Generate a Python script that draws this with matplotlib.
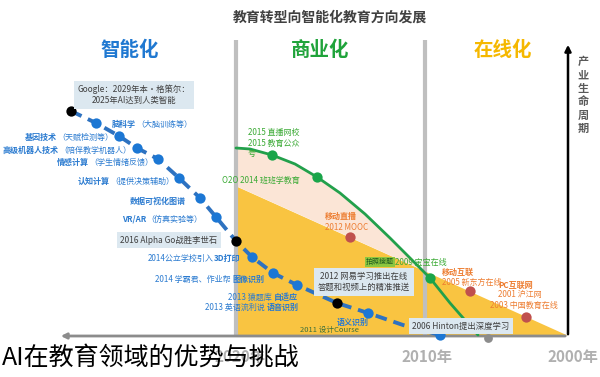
import matplotlib
matplotlib.use("Agg")
import matplotlib.pyplot as plt
import numpy as np

plt.rcParams['font.family'] = ['Noto Sans CJK SC', 'DejaVu Sans']

# timeline positions (x) and life-cycle level (y, drawn top-down)
ai_x = [71, 96, 119, 137, 158, 179, 200, 216, 236, 252, 273, 297, 337, 368, 403, 440]
ai_y = [111, 123, 136, 148, 159, 178, 198, 217, 241, 257, 273, 285, 303, 313, 325, 335]
ai_kind = ['k', 'b', 'b', 'b', 'b', 'b', 'b', 'b', 'k', 'b', 'b', 'b', 'k', 'b', None, 'b']

biz_x = [236, 250, 272, 295, 317, 340, 365, 390, 410, 430, 450, 478]
biz_y = [148, 149, 155, 164, 177, 193, 214, 238, 258, 278, 303, 335]
biz_dots = [2, 4, 9]

online_x = [236, 567]
online_y = [186, 335]
online_dot_x = [350, 470, 526]

base_y = 335
years = ['2020年', '2010年', '2000年']
year_x = [240, 427, 573]
sections = ['智能化', '商业化', '在线化']
section_x = [130, 320, 503]
section_col = ['#1F78D1', '#1FA33A', '#F5B800']
divider_x = [236, 425]

# blue labels: (left x, y, [(text, bold), ...])
ai_labels = [
    (112, 124, [('脑科学', True), ('（大脑训练等）', False)]),
    (25, 137, [('基因技术', True), ('（天赋检测等）', False)]),
    (3, 150, [('高级机器人技术', True), ('（陪伴教学机器人）', False)]),
    (57, 162, [('情感计算', True), ('（学生情绪反馈）', False)]),
    (78, 181, [('认知计算', True), ('（提供决策辅助）', False)]),
    (130, 201, [('数据可视化图谱', True)]),
    (122, 219, [('VR/AR', True), ('（仿真实验等）', False)]),
    (148, 258, [('2014公立学校引入', False), ('3D打印', True)]),
    (155, 279, [('2014 学霸君、作业帮 ', False), ('图像识别', True)]),
    (228, 297, [('2013 猿题库 ', False), ('自适应', True)]),
    (205, 307, [('2013 英语流利说 ', False), ('语音识别', True)]),
    (337, 322, [('语义识别', True)]),
]

fig = plt.figure(figsize=(6, 3.77), dpi=100)
ax = fig.add_axes([0, 0, 1, 1])
ax.set_xlim(0, 600)
ax.set_ylim(377, 0)
ax.axis('off')

# areas
xx = np.linspace(online_x[0], online_x[1], 300)
yellow = np.interp(xx, online_x, online_y)
green = np.interp(xx, biz_x, biz_y)
ax.fill_between(xx, yellow, base_y, color='#F9C441', lw=0, zorder=1)
ax.fill_between(xx, green, yellow, where=green <= yellow, interpolate=True,
                color='#FBE5D6', lw=0, zorder=1)

# dividers and axes
ax.vlines(divider_x, 40, base_y, color='#BFBFBF', lw=3, zorder=2)
ax.annotate('', xy=(58, base_y + 1), xytext=(568, base_y + 1),
            arrowprops=dict(arrowstyle='-|>', color='#8C8C8C', lw=2, mutation_scale=8), zorder=3)
ax.annotate('', xy=(568, 42), xytext=(568, base_y + 2),
            arrowprops=dict(arrowstyle='-|>', color='black', lw=1.8, mutation_scale=9), zorder=3)
ax.text(583, 95, '\n'.join('产业生命周期'), ha='center', va='center', fontsize=8,
        color='#595959', fontweight='bold', linespacing=1.05)

for lbl, x in zip(years, year_x):
    ax.text(x, 357, lbl, ha='center', va='center', fontsize=11, color='#B0B0B0', fontweight='bold')

ax.text(330, 18, '教育转型向智能化教育方向发展', ha='center', va='center', fontsize=10,
        color='#404040', fontweight='bold')
for s, x, c in zip(sections, section_x, section_col):
    ax.text(x, 50, s, ha='center', va='center', fontsize=14, color=c, fontweight='bold')

# lines
ax.plot(biz_x, biz_y, color='#22A04B', lw=2, zorder=4, solid_capstyle='round')
ax.plot(ai_x, ai_y, color='#2E72C0', lw=2.8, ls=(0, (3, 1.8)), zorder=4)
for x, y, k in zip(ai_x, ai_y, ai_kind):
    if k == 'b':
        ax.scatter(x, y, s=55, color='#1C77D4', zorder=5, lw=0)
    elif k == 'k':
        ax.scatter(x, y, s=55, color='black', zorder=5, lw=0)
ax.scatter([biz_x[i] for i in biz_dots], [biz_y[i] for i in biz_dots], s=55,
           color='#1AA54A', zorder=5, lw=0)
ax.scatter(online_dot_x, np.interp(online_dot_x, online_x, online_y), s=55,
           color='#C0504D', zorder=5, lw=0)
ax.scatter([488], [base_y + 3], s=40, color='#8C8C8C', zorder=5, lw=0)

# blue labels
for x, y, parts in ai_labels:
    prev = None
    for txt, bold in parts:
        kw = dict(fontsize=5.8, color='#2B7BD0', va='center', zorder=6,
                  fontweight='bold' if bold else 'normal')
        if prev is None:
            prev = ax.text(x, y, txt, ha='left', **kw)
        else:
            prev = ax.annotate(txt, xy=(1, 0.5), xycoords=prev, ha='left', **kw)
ax.text(300, 330, '2011 设计Course', fontsize=5.5, color='#3A6E3A', va='center', zorder=6)

# green labels
gkw = dict(fontsize=5.8, color='#3BAA35', va='center', zorder=6)
ax.text(248, 143, '2015 直播网校\n2015 教育公众\n号', ha='left', linespacing=1.2, **gkw)
ax.text(222, 180, 'O2O 2014 班班学教育', ha='left', **gkw)
ax.text(366, 262, '拍照搜题', fontsize=5, color='#1F5A1F', va='center', zorder=6,
        bbox=dict(boxstyle='square,pad=0.15', fc='#8CC63F', ec='none'))
ax.text(395, 262, '2009 宝宝在线', ha='left', **gkw)

# orange labels
okw = dict(fontsize=5.8, color='#ED7D31', va='center', ha='left', zorder=6)
ax.text(325, 216, '移动直播', fontweight='bold', **okw)
ax.text(325, 227, '2012 MOOC', **okw)
ax.text(442, 272, '移动互联', fontweight='bold', **okw)
ax.text(442, 282, '2005 新东方在线', **okw)
ax.text(498, 285, 'PC互联网', fontweight='bold', **okw)
ax.text(498, 295, '2001 沪江网', **okw)
ax.text(490, 305, '2003 中国教育在线', **okw)

# boxes
bkw = dict(fontsize=6, color='#404040', ha='center', va='center', zorder=7)
ax.text(134, 95, 'Google：2029年本·格策尔：\n2025年AI达到人类智能', linespacing=1.3,
        bbox=dict(boxstyle='square,pad=0.5', fc='#DCE8F0', ec='none'), **bkw)
ax.text(169, 240, '2016 Alpha Go战胜李世石',
        bbox=dict(boxstyle='square,pad=0.45', fc='#DCE8F0', ec='none'), **bkw)
ax.text(364, 282, '2012 网易学习推出在线\n答题和视频上的精准推送', linespacing=1.3,
        bbox=dict(boxstyle='square,pad=0.45', fc='#DCE8F0', ec='none'), **bkw)
ax.text(461, 326, '2006 Hinton提出深度学习',
        bbox=dict(boxstyle='square,pad=0.45', fc='#DCE8F0', ec='none'), **bkw)

# caption, laid over the chart as in the source
ax.text(2, 358, 'AI在教育领域的优势与挑战', ha='left', va='center', fontsize=18,
        color='black', fontweight='light', zorder=8)

fig.savefig('out.png', dpi=100)
